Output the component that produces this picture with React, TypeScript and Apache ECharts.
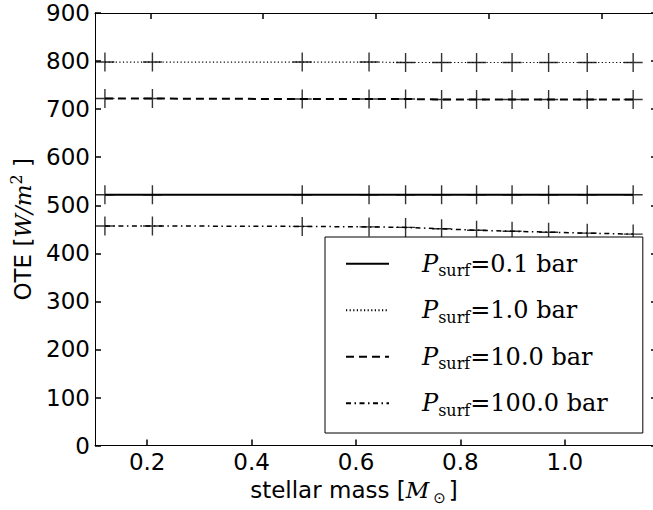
import { useEffect, useRef } from 'react';
import * as echarts from 'echarts';

// stellar mass [M_sun] of the sampled stars
const masses = [0.119, 0.21, 0.497, 0.625, 0.695, 0.764, 0.831, 0.899, 0.969, 1.043, 1.131];
// surface pressures (bar) -> legend entries
const pressures = ['0.1', '1.0', '10.0', '100.0'];
// OTE [W/m^2] per surface pressure
const ote01 = [522, 522, 522, 522, 522, 522, 522, 522, 522, 522, 522];
const ote1 = [798, 798, 798, 798, 797, 797, 797, 797, 797, 797, 797];
const ote10 = [722, 722, 721, 721, 721, 720, 720, 720, 720, 720, 720];
const ote100 = [457, 457, 456, 455, 454, 451, 448, 446, 444, 442, 440];
// bottom-axis tick labels
const xTicks = [0.2, 0.4, 0.6, 0.8, 1.0];
// ticks of the (unlabelled) top axis, in stellar-mass units
const topTicks = [0.207, 0.422, 0.638, 0.854, 1.07];

const seriesValues = [ote01, ote1, ote10, ote100];
const lineTypes: any[] = ['solid', [1.2, 2.4], [8, 5], [5, 3.5, 1.5, 3.5]];
const lineWidths = [2, 1.2, 2, 1.5];

const PLUS = 'path://M8.8,0h1.4v19h-1.4z M0,8.8h19v1.4h-19z';

export default function App() {
  const ref = useRef<HTMLDivElement>(null);
  useEffect(() => {
    if (!ref.current) return;
    const chart = echarts.init(ref.current, null, { renderer: 'svg' });
    const series: any[] = [];
    pressures.forEach((p, k) => {
      const data = masses.map((m, i) => [m, seriesValues[k][i]]);
      series.push({
        type: 'line',
        name: p,
        data,
        symbol: 'none',
        lineStyle: { color: '#000', width: lineWidths[k], type: lineTypes[k] },
        itemStyle: { color: '#000' },
        z: 2,
        silent: true,
      });
      series.push({
        type: 'scatter',
        name: 'marker ' + p,
        data,
        symbol: PLUS,
        symbolSize: 19,
        itemStyle: { color: '#000' },
        z: 3,
        silent: true,
      });
    });
    const sans = 'DejaVu Sans';
    const serif = 'DejaVu Serif';
    chart.setOption({
      animation: false,
      backgroundColor: '#fff',
      grid: { left: 95, top: 13, right: 0, bottom: 60 },
      xAxis: [
        {
          type: 'value',
          min: 0.1,
          max: 1.169,
          position: 'bottom',
          axisLine: { show: true, onZero: false, lineStyle: { color: '#000', width: 1 } },
          axisTick: { show: true, inside: true, length: 6, customValues: xTicks, lineStyle: { color: '#000', width: 1.5 } },
          axisLabel: {
            fontFamily: sans,
            fontSize: 23,
            color: '#000',
            margin: 5,
            customValues: xTicks,
            formatter: (v: number) => v.toFixed(1),
          },
          splitLine: { show: false },
          name: '{a|stellar mass [}{m|M}{sub|⊙}{a|]}',
          nameLocation: 'middle',
          nameGap: 28,
          nameTextStyle: {
            padding: [0, 40, 0, 0],
            rich: {
              a: { fontFamily: sans, fontSize: 23, lineHeight: 30, color: '#000' },
              m: { fontFamily: serif, fontStyle: 'italic', fontSize: 23, lineHeight: 30, color: '#000' },
              sub: { fontFamily: sans, fontSize: 15, lineHeight: 14, verticalAlign: 'bottom', color: '#000', padding: [0, 3, 0, 4] },
            },
          },
        },
        {
          type: 'value',
          min: 0.1,
          max: 1.169,
          position: 'top',
          axisLine: { show: true, onZero: false, lineStyle: { color: '#000', width: 1 } },
          axisTick: { show: true, inside: true, length: 6, customValues: topTicks, lineStyle: { color: '#000', width: 1.5 } },
          axisLabel: { show: false },
          splitLine: { show: false },
        },
      ],
      yAxis: [
        {
          type: 'value',
          min: 0,
          max: 900,
          interval: 100,
          position: 'left',
          axisLine: { show: true, onZero: false, lineStyle: { color: '#000', width: 1 } },
          axisTick: { show: true, inside: true, length: 6, lineStyle: { color: '#000', width: 1.5 } },
          axisLabel: { fontFamily: sans, fontSize: 23, color: '#000', margin: 5 },
          splitLine: { show: false },
          name: '{a|OTE [}{w|W/m}{sup|2}{a| ]}',
          nameLocation: 'middle',
          nameRotate: 90,
          nameGap: 57,
          nameTextStyle: {
            rich: {
              a: { fontFamily: sans, fontSize: 23, lineHeight: 30, color: '#000' },
              w: { fontFamily: serif, fontStyle: 'italic', fontSize: 23, lineHeight: 30, color: '#000' },
              sup: { fontFamily: serif, fontSize: 16, lineHeight: 16, verticalAlign: 'top', color: '#000' },
            },
          },
        },
        {
          type: 'value',
          min: 0,
          max: 900,
          interval: 100,
          position: 'right',
          axisLine: { show: false, onZero: false },
          axisTick: { show: true, inside: true, length: 2, lineStyle: { color: '#000', width: 1.5 } },
          axisLabel: { show: false },
          splitLine: { show: false },
        },
      ],
      legend: {
        orient: 'vertical',
        left: 325,
        top: 237,
        z: 10,
        data: pressures,
        selectedMode: false,
        itemWidth: 43,
        itemHeight: 14,
        itemGap: 19.5,
        padding: [14.75, 35, 14.75, 20],
        backgroundColor: '#fff',
        borderColor: '#000',
        borderWidth: 1,
        borderRadius: 0,
        itemStyle: { opacity: 0 },
        formatter: (name: string) => `{gap| }{p|P}{s|surf}{t|=${name} bar}`,
        textStyle: {
          rich: {
            gap: { width: 28, fontSize: 10, lineHeight: 30 },
            p: { fontFamily: serif, fontStyle: 'italic', fontSize: 24, lineHeight: 30, color: '#000' },
            s: { fontFamily: serif, fontSize: 16, lineHeight: 12, verticalAlign: 'bottom', color: '#000' },
            t: { fontFamily: serif, fontSize: 24, lineHeight: 30, color: '#000' },
          },
        },
      },
      series,
    });
    return () => chart.dispose();
  }, []);
  return <div ref={ref} style={{ position: 'fixed', left: 0, top: 0, width: 653, height: 510 }} />;
}
